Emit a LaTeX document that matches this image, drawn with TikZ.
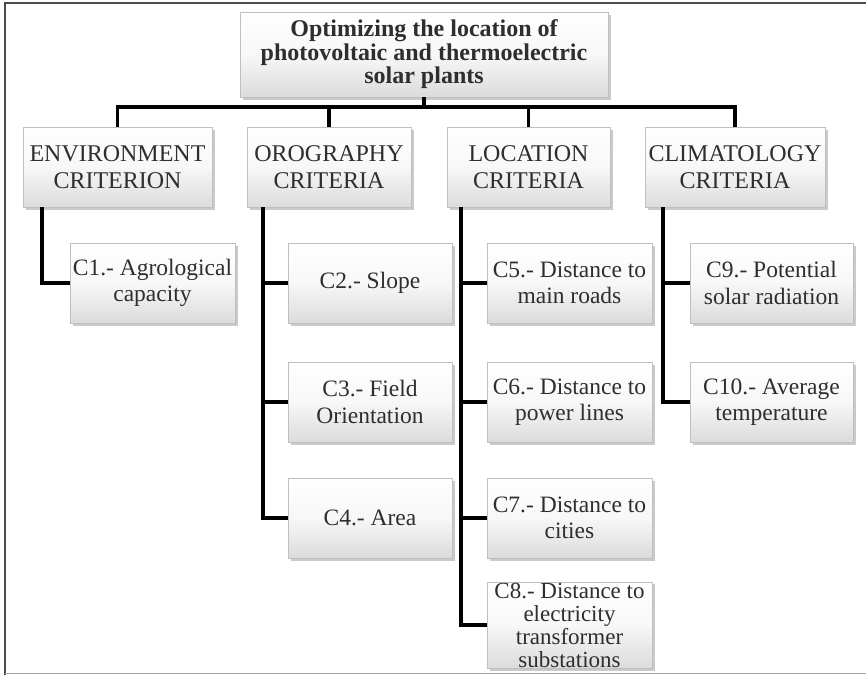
\documentclass[tikz,border=0pt]{standalone}
\usepackage{fontspec}
\setmainfont{Liberation Serif}
\usetikzlibrary{shadows}
\begin{document}
\begin{tikzpicture}[x=1pt,y=-1pt,
  box/.style={rectangle, draw=black!25, line width=0.4pt,
    top color=white, bottom color=black!14, middle color=black!3,
    drop shadow={shadow xshift=2.5pt, shadow yshift=-2.5pt, opacity=0.35, fill=black!60},
    align=center, inner sep=1pt, text=black!82},
  topbox/.style={box, minimum width=368pt, minimum height=85pt,
    font=\fontsize{24}{23.5}\selectfont\bfseries},
  catbox/.style={box, minimum height=80pt, font=\fontsize{24}{27}\selectfont},
  leaf/.style={box, minimum height=80pt, font=\fontsize{23.5}{26.5}\selectfont},
  conn/.style={line width=3.6pt, black, line join=miter}
]
\useasboundingbox (0,0) rectangle (866,675);
% frame
\draw[line width=2pt, black!70] (5,675) -- (5,3) -- (866,3);
\draw[line width=1pt, black!35] (5,673) -- (866,673);

% nodes
\node[topbox] (top) at (424,54.5) {Optimizing the location of\\photovoltaic and thermoelectric\\solar plants};

\node[catbox, minimum width=189pt] (env) at (117.5,167) {ENVIRONMENT\\CRITERION};
\node[catbox, minimum width=164pt] (oro) at (329,167) {OROGRAPHY\\CRITERIA};
\node[catbox, minimum width=163pt] (loc) at (528.5,167) {LOCATION\\CRITERIA};
\node[catbox, minimum width=180pt] (clim) at (735,167) {CLIMATOLOGY\\CRITERIA};

\node[leaf, minimum width=165pt] (c1) at (152.5,283) {C1.- Agrological\\capacity};

\node[leaf, minimum width=164pt] (c2) at (370,283) {C2.- Slope};
\node[leaf, minimum width=164pt] (c3) at (370,402) {C3.- Field\\Orientation};
\node[leaf, minimum width=164pt] (c4) at (370,518) {C4.- Area};

\node[leaf, minimum width=165pt] (c5) at (569.5,283) {C5.- Distance to\\main roads};
\node[leaf, minimum width=165pt] (c6) at (569.5,402) {C6.- Distance to\\power lines};
\node[leaf, minimum width=165pt] (c7) at (569.5,518) {C7.- Distance to\\cities};
\node[leaf, minimum width=165pt, minimum height=86pt, font=\fontsize{23}{23}\selectfont] (c8) at (569.5,625) {C8.- Distance to\\electricity\\transformer\\substations};

\node[leaf, minimum width=163pt] (c9) at (771.5,283) {C9.- Potential\\solar radiation};
\node[leaf, minimum width=163pt] (c10) at (771.5,402) {C10.- Average\\temperature};

% connectors
\coordinate (barY) at (0,107);
\draw[conn] (top.south) -- (top.south |- barY);
\draw[conn] (env.north) -- (env.north |- barY) -- (clim.north |- barY) -- (clim.north);
\draw[conn] (oro.north) -- (oro.north |- barY);
\draw[conn] (loc.north) -- (loc.north |- barY);

\draw[conn] ([xshift=19pt]env.south west) |- (c1.west);

\draw[conn] ([xshift=16pt]oro.south west) |- (c4.west);
\draw[conn] ([xshift=16pt]oro.south west |- c2.west) -- (c2.west);
\draw[conn] ([xshift=16pt]oro.south west |- c3.west) -- (c3.west);

\draw[conn] ([xshift=14pt]loc.south west) |- (c8.west);
\draw[conn] ([xshift=14pt]loc.south west |- c5.west) -- (c5.west);
\draw[conn] ([xshift=14pt]loc.south west |- c6.west) -- (c6.west);
\draw[conn] ([xshift=14pt]loc.south west |- c7.west) -- (c7.west);

\draw[conn] ([xshift=18pt]clim.south west) |- (c10.west);
\draw[conn] ([xshift=18pt]clim.south west |- c9.west) -- (c9.west);
\end{tikzpicture}
\end{document}
